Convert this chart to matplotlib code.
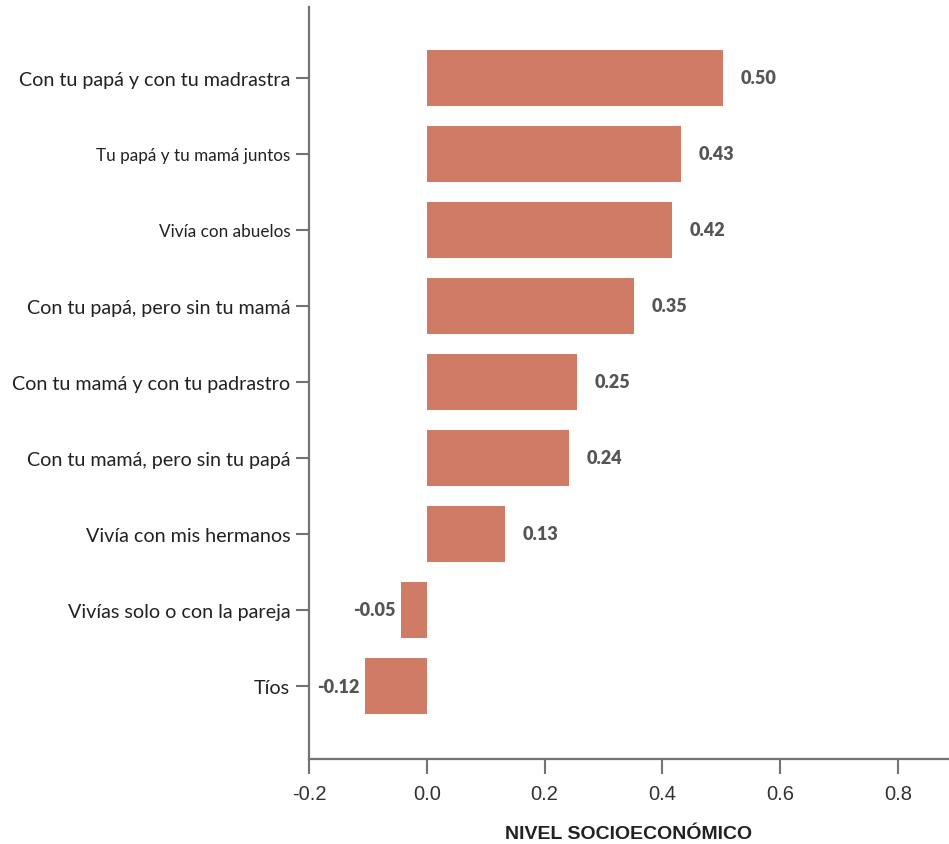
import numpy as np
import matplotlib
matplotlib.use("Agg")
import matplotlib.pyplot as plt

categorias = [
    "Con tu papá y con tu madrastra",
    "Tu papá y tu mamá juntos",
    "Vivía con abuelos",
    "Con tu papá, pero sin tu mamá",
    "Con tu mamá y con tu padrastro",
    "Con tu mamá, pero sin tu papá",
    "Vivía con mis hermanos",
    "Vivías solo o con la pareja",
    "Tíos",
]
valores = [0.503, 0.431, 0.416, 0.351, 0.255, 0.241, 0.132, -0.044, -0.105]
etiquetas = ["0.50", "0.43", "0.42", "0.35", "0.25", "0.24", "0.13", "-0.05", "-0.12"]
tam_cat = [14.2, 12.3, 12.3, 14.2, 14.2, 14.2, 14.2, 14.2, 14.2]
xticks = [-0.2, 0.0, 0.2, 0.4, 0.6, 0.8]

color_barra = "#D07B66"
gris = "#727274"

fig = plt.figure(figsize=(9.49, 8.45), dpi=100)
ax = fig.add_axes([309/949, 1 - 760/845, 639/949, 752/845])

y = np.arange(len(categorias))
ax.barh(y, valores, height=0.74, color=color_barra)
ax.set_ylim(len(categorias) - 1 + 0.96, -0.93)
ax.set_xlim(-0.2, 0.885)

for yi, v, lab in zip(y, valores, etiquetas):
    if v >= 0:
        ax.annotate(lab, (v, yi), xytext=(13, 0), textcoords="offset points",
                    ha="left", va="center", fontsize=13, fontweight="heavy",
                    color="#555555", family=["Lato", "DejaVu Sans"])
    else:
        ax.annotate(lab, (v, yi), xytext=(-4, 0), textcoords="offset points",
                    ha="right", va="center", fontsize=13, fontweight="heavy",
                    color="#555555", family=["Lato", "DejaVu Sans"])

ax.set_yticks(y)
ax.set_yticklabels(categorias, family=["Lato", "DejaVu Sans"], color="#222222")
for t, s in zip(ax.get_yticklabels(), tam_cat):
    t.set_fontsize(s)

ax.set_xticks(xticks)
ax.set_xticklabels(["%.1f" % v for v in xticks], fontsize=14.5,
                   family=["Liberation Sans Narrow", "Liberation Sans", "DejaVu Sans"],
                   color="#333333")

ax.tick_params(axis="y", length=9.5, width=1.5, color=gris, pad=4)
ax.tick_params(axis="x", length=11, width=1.5, color=gris, pad=7)

for s in ["top", "right"]:
    ax.spines[s].set_visible(False)
for s in ["left", "bottom"]:
    ax.spines[s].set_color(gris)
    ax.spines[s].set_linewidth(1.6)

ax.set_xlabel("NIVEL SOCIOECONÓMICO", fontsize=14, fontweight="bold",
              family=["Liberation Sans Narrow", "Liberation Sans", "DejaVu Sans"],
              color="#222222", labelpad=16)

fig.savefig("out.png", dpi=100)
